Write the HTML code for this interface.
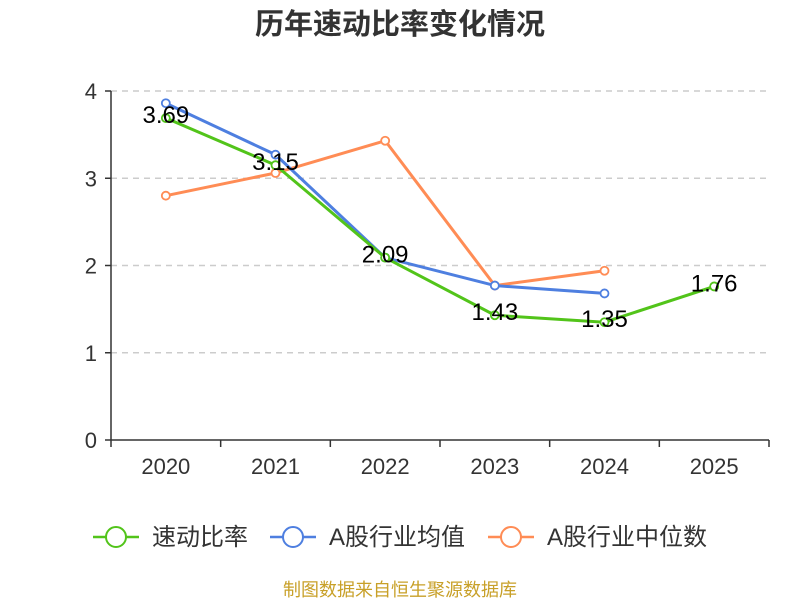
<!DOCTYPE html>
<html><head><meta charset="utf-8"><style>body{margin:0;background:#fff}svg{font-family:"Liberation Sans","Noto Sans CJK SC",sans-serif}</style></head>
<body>
<svg id="c" width="800" height="600">
<text x="400" y="34" text-anchor="middle" font-size="29" font-weight="bold" fill="#333">历年速动比率变化情况</text>
<g id="grid"></g><g id="axes"></g><g id="series"></g>
<g>
<g><line x1="93" y1="537" x2="139" y2="537" stroke="#52c41a" stroke-width="2.5"/><circle cx="116" cy="537" r="10" fill="#fff" stroke="#52c41a" stroke-width="2"/><text x="152" y="545" font-size="24" fill="#333">速动比率</text></g>
<g><line x1="270" y1="537" x2="316" y2="537" stroke="#4e7fe0" stroke-width="2.5"/><circle cx="293" cy="537" r="10" fill="#fff" stroke="#4e7fe0" stroke-width="2"/><text x="329" y="545" font-size="24" fill="#333">A股行业均值</text></g>
<g><line x1="488" y1="537" x2="534" y2="537" stroke="#ff8c55" stroke-width="2.5"/><circle cx="511" cy="537" r="10" fill="#fff" stroke="#ff8c55" stroke-width="2"/><text x="547" y="545" font-size="24" fill="#333">A股行业中位数</text></g>
</g>
<text x="400" y="596" text-anchor="middle" font-size="18" fill="#c8a028">制图数据来自恒生聚源数据库</text>
</svg>
<script>
const categories=["2020","2021","2022","2023","2024","2025"];
const quick=[3.69,3.15,2.09,1.43,1.35,1.76];
const avg=[3.86,3.27,2.09,1.77,1.68];
const median=[2.80,3.06,3.43,1.77,1.94];
const yTicks=[0,1,2,3,4];
const NS="http://www.w3.org/2000/svg";
const L=111,R=769,T=91,B=440,bw=(R-L)/categories.length;
const x=i=>L+bw*(i+0.5), y=v=>B-(B-T)*v/4;
function mk(t,a,p){const e=document.createElementNS(NS,t);for(const k in a)e.setAttribute(k,a[k]);p.appendChild(e);return e;}
const g=document.getElementById('grid'),ax=document.getElementById('axes'),s=document.getElementById('series');
yTicks.forEach(v=>{
 if(v>0){const l=mk('line',{x1:L,x2:R,y1:y(v),y2:y(v),stroke:'#ccc','stroke-dasharray':'6,5','stroke-width':1.5},g);
 
 }
 mk('line',{x1:L-6,x2:L,y1:y(v),y2:y(v),stroke:'#333','stroke-width':1.5},ax);
 const t=mk('text',{x:L-14,y:y(v)+8,'text-anchor':'end','font-size':22,fill:'#333'},ax);t.textContent=v;
 
 
});
mk('line',{x1:L,x2:L,y1:T,y2:B,stroke:'#333','stroke-width':1.5},ax);
mk('line',{x1:L,x2:R,y1:B,y2:B,stroke:'#333','stroke-width':1.5},ax);
for(let i=0;i<=categories.length;i++)mk('line',{x1:L+bw*i,x2:L+bw*i,y1:B,y2:B+7,stroke:'#333','stroke-width':1.5},ax);
categories.forEach((c,i)=>{const t=mk('text',{x:x(i),y:B+34,'text-anchor':'middle','font-size':22,fill:'#333'},ax);t.textContent=c;
 
 });
function line(data,color,name,labels){
 const gg=mk('g',{},s);
 
 
 mk('polyline',{points:data.map((v,i)=>x(i)+','+y(v)).join(' '),fill:'none',stroke:color,'stroke-width':3},gg);
 data.forEach((v,i)=>{const c=mk('circle',{cx:x(i),cy:y(v),r:4,fill:'#fff',stroke:color,'stroke-width':1.8},gg);
  
  });
 if(labels)data.forEach((v,i)=>{const t=mk('text',{x:x(i),y:y(v)+5,'text-anchor':'middle','font-size':24,fill:'#000'},gg);t.textContent=v;
  
  });
}
line(median,'#ff8c55','series-median',false);
line(avg,'#4e7fe0','series-average',false);
line(quick,'#52c41a','series-quick-ratio',true);
</script>
</body></html>
